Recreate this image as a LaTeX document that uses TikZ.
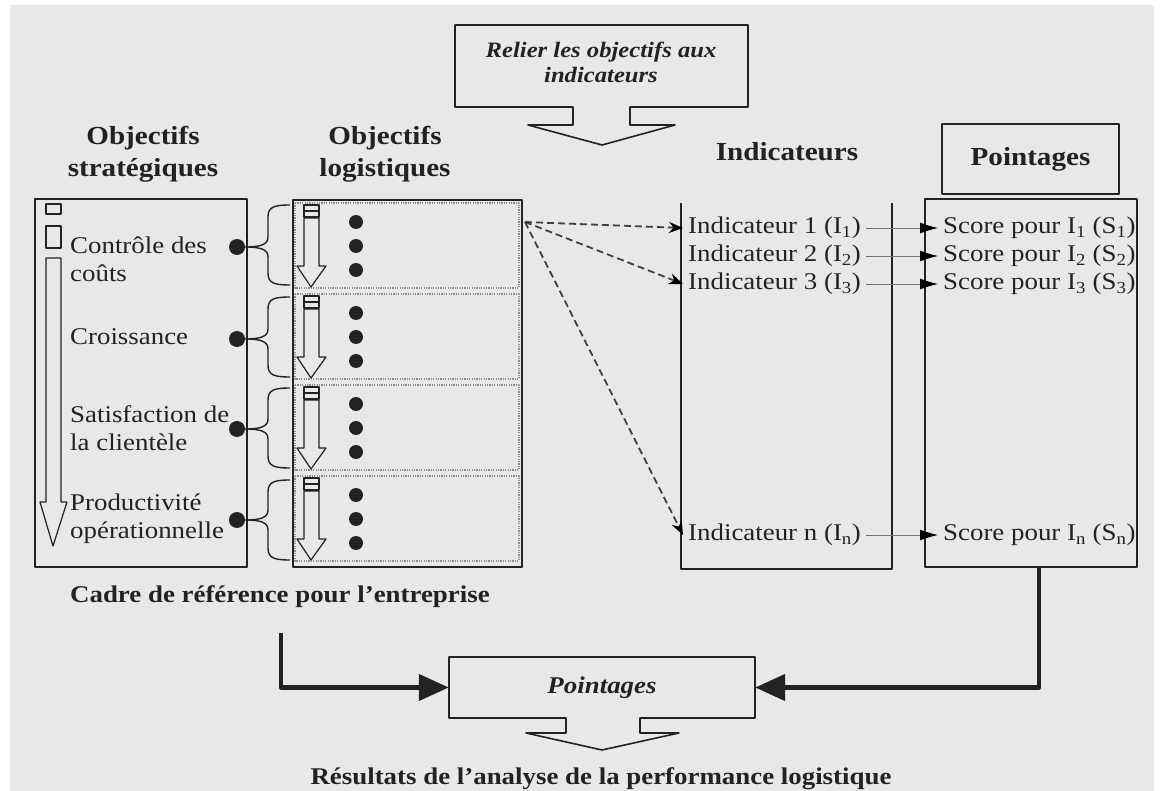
\documentclass[tikz,border=0pt]{standalone}
\usepackage{fontspec}
\setmainfont{Liberation Serif}[FakeStretch=1.12]
\usetikzlibrary{arrows.meta}
\definecolor{fond}{HTML}{E7E8EA}
\definecolor{encre}{HTML}{222222}

\begin{document}
\begin{tikzpicture}[x=1pt, y=-1pt, line join=round,
  cadre/.style={draw=encre, line width=1.6pt},
  icone/.style={draw=encre, line width=1.2pt},
  sousbloc/.style={draw=black!45, line width=1.4pt, dash pattern=on 1.2pt off 1.2pt},
  accolade/.style={draw=encre, line width=1.4pt},
  txt/.style={inner sep=0pt, text=encre, font=\fontsize{24}{28}\selectfont},
  titre/.style={inner sep=0pt, text=encre, align=center, font=\fontsize{26}{32}\selectfont\bfseries},
  ind/.style={txt, anchor=west, inner sep=5pt},
  gros/.style={circle, fill=encre, inner sep=0pt, minimum size=16pt},
  tiret/.style={draw=black!75, line width=1.8pt, dash pattern=on 7pt off 4pt, -{Stealth[length=14pt,width=11pt,black]}},
  fin/.style={draw=black!55, line width=0.9pt, -{Latex[length=18pt,width=11pt,black]}},
  epais/.style={draw=encre, line width=4.5pt, -{Triangle[length=30pt,width=26pt]}}]

  %% ════ 背景 ════
  \fill[fond] (10,5) rectangle (1154,791);

  %% ════ 顶部提示框 ════
  \draw[cadre] (455,25) -- (748,25) -- (748,107) -- (630,107) -- (630,125) -- (675,125) -- (602,145)
    -- (528,125) -- (573,125) -- (573,107) -- (455,107) -- cycle;
  \node[titre, font=\fontsize{22}{25}\selectfont\bfseries\itshape] (relier) at (601,62) {Relier les objectifs aux\\indicateurs};

  %% ════ 栏目标题 ════
  \node[titre] (hstrat) at (143,154) {Objectifs\\stratégiques};
  \node[titre] (hlogi) at (385,154) {Objectifs\\logistiques};
  \node[titre] (hind) at (787,152) {Indicateurs};
  \node[titre, cadre, minimum width=177pt, minimum height=70pt] (hpt) at (1030.5,159) {Pointages};

  %% ════ 左框：战略目标 ════
  \node[cadre, minimum width=212pt, minimum height=368pt, inner sep=0pt] (strat) at (141,383) {};
  \draw[icone] (46,204) rectangle (61,214);
  \draw[icone] (46,226) rectangle (61,248);
  \draw[icone] (46,258) -- (46,502) -- (40,502) -- (53,546) -- (67,502) -- (61,502) -- (61,258) -- cycle;
  \node[txt, anchor=west, align=left] (couts) at (70,259) {Contrôle des\\coûts};
  \node[txt, anchor=west] (croiss) at (70,337) {Croissance};
  \node[txt, anchor=west, align=left] (satis) at (70,428) {Satisfaction de\\la clientèle};
  \node[txt, anchor=west, align=left] (produ) at (70,519) {Productivité\\opérationnelle};
  \node[gros] (d1) at (237,247) {};
  \node[gros] (d2) at (237,339) {};
  \node[gros] (d3) at (237,429) {};
  \node[gros] (d4) at (237,520) {};

  %% ════ 花括号 ════
  \draw[accolade] (290,205) .. controls (274,205) and (268,207) .. (268,217) -- (268,237)
    .. controls (268,244) and (262,247) .. (d1.east) .. controls (262,247) and (268,250) .. (268,257)
    -- (268,273) .. controls (268,283) and (274,285) .. (290,285);
  \draw[accolade] (290,297) .. controls (274,297) and (268,299) .. (268,309) -- (268,329)
    .. controls (268,336) and (262,339) .. (d2.east) .. controls (262,339) and (268,342) .. (268,349)
    -- (268,365) .. controls (268,375) and (274,377) .. (290,377);
  \draw[accolade] (290,388) .. controls (274,388) and (268,390) .. (268,400) -- (268,419)
    .. controls (268,426) and (262,429) .. (d3.east) .. controls (262,429) and (268,432) .. (268,439)
    -- (268,456) .. controls (268,466) and (274,468) .. (290,468);
  \draw[accolade] (290,480) .. controls (274,480) and (268,482) .. (268,492) -- (268,510)
    .. controls (268,517) and (262,520) .. (d4.east) .. controls (262,520) and (268,523) .. (268,530)
    -- (268,548) .. controls (268,558) and (274,560) .. (290,560);

  %% ════ 中框：物流目标 ════
  \node[cadre, line width=2pt, minimum width=229pt, minimum height=367pt, inner sep=0pt] (logi) at (407.5,383.5) {};
  % 第一行
  \draw[sousbloc] (295,203) rectangle (519,288);
  \draw[icone] (304,205) rectangle (319,217);  \draw[icone] (304,211) -- (319,211);
  \draw[icone] (304,218) -- (304,266) -- (297,266) -- (311,287) -- (326,266) -- (319,266) -- (319,218) -- cycle;
  \fill[encre] (356,222) circle (7) (356,246) circle (7) (356,270) circle (7);
  % 第二行
  \draw[sousbloc] (295,294) rectangle (519,379);
  \draw[icone] (304,296) rectangle (319,308);  \draw[icone] (304,302) -- (319,302);
  \draw[icone] (304,309) -- (304,357) -- (297,357) -- (311,378) -- (326,357) -- (319,357) -- (319,309) -- cycle;
  \fill[encre] (356,313) circle (7) (356,337) circle (7) (356,361) circle (7);
  % 第三行
  \draw[sousbloc] (295,385) rectangle (519,470);
  \draw[icone] (304,387) rectangle (319,399);  \draw[icone] (304,393) -- (319,393);
  \draw[icone] (304,400) -- (304,448) -- (297,448) -- (311,469) -- (326,448) -- (319,448) -- (319,400) -- cycle;
  \fill[encre] (356,404) circle (7) (356,428) circle (7) (356,452) circle (7);
  % 第四行
  \draw[sousbloc] (295,476) rectangle (519,561);
  \draw[icone] (304,478) rectangle (319,490);  \draw[icone] (304,484) -- (319,484);
  \draw[icone] (304,491) -- (304,539) -- (297,539) -- (311,560) -- (326,539) -- (319,539) -- (319,491) -- cycle;
  \fill[encre] (356,495) circle (7) (356,519) circle (7) (356,543) circle (7);

  %% ════ 指标栏 + 得分框 ════
  \draw[cadre] (681,203) -- (681,569) -- (892,569) -- (892,203);
  \node[cadre, line width=2pt, minimum width=212pt, minimum height=368pt, inner sep=0pt] (scores) at (1031,383) {};

  \node[ind] (i1) at (683,228) {Indicateur 1 (I\textsubscript{1})};
  \node[ind] (i2) at (683,256) {Indicateur 2 (I\textsubscript{2})};
  \node[ind] (i3) at (683,284) {Indicateur 3 (I\textsubscript{3})};
  \node[ind] (in) at (683,535) {Indicateur n (I\textsubscript{n})};
  \node[ind] (s1) at (938,228) {Score pour I\textsubscript{1} (S\textsubscript{1})};
  \node[ind] (s2) at (938,256) {Score pour I\textsubscript{2} (S\textsubscript{2})};
  \node[ind] (s3) at (938,284) {Score pour I\textsubscript{3} (S\textsubscript{3})};
  \node[ind] (sn) at (938,535) {Score pour I\textsubscript{n} (S\textsubscript{n})};

  \draw[fin] (i1.east) -- (s1.west);
  \draw[fin] (i2.east) -- (s2.west);
  \draw[fin] (i3.east) -- (s3.west);
  \draw[fin] (in.east) -- (sn.west);

  %% ════ 虚线箭头 ════
  \coordinate (depart) at (525,222);
  \draw[tiret] (depart) -- (i1.west);
  \draw[tiret] (depart) -- (i3.west);
  \draw[tiret] (depart) -- (in.west);

  %% ════ 底部 ════
  \node[txt, anchor=west, font=\fontsize{24}{28}\selectfont\bfseries] (crf) at (70,597) {Cadre de référence pour l’entreprise};
  \draw[cadre] (449,657) -- (755,657) -- (755,718) -- (640,718) -- (640,733) -- (679,733) -- (602,750)
    -- (526,733) -- (566,733) -- (566,718) -- (449,718) -- cycle;
  \node[txt, minimum width=306pt, minimum height=61pt, font=\fontsize{24}{28}\selectfont\bfseries\itshape] (ptg) at (602,687.5) {Pointages};
  \node[txt, font=\fontsize{24}{28}\selectfont\bfseries] (result) at (601,779) {Résultats de l’analyse de la performance logistique};

  \coordinate (depcadre) at (281,633);
  \draw[epais] (depcadre) |- (ptg.west);
  \draw[epais] ([xshift=8pt]scores.south) |- (ptg.east);

  % 钉死画布
  \pgfresetboundingbox
  \path[use as bounding box] (0,0) rectangle (1160,791);
\end{tikzpicture}
\end{document}
